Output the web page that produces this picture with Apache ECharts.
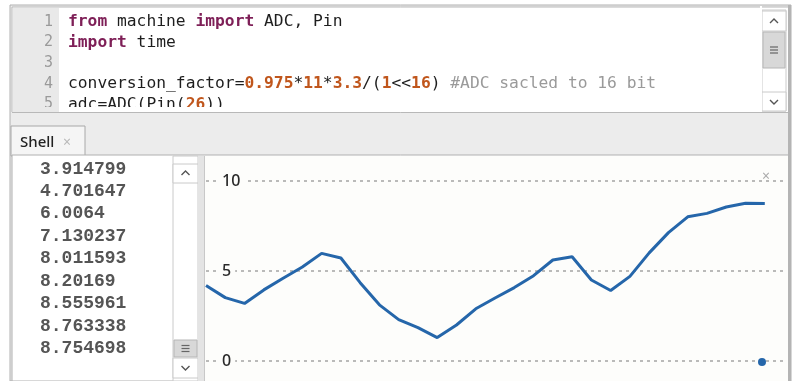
<!DOCTYPE html>
<html><head><meta charset="utf-8">
<script src="https://cdn.jsdelivr.net/npm/echarts@6/dist/echarts.min.js"></script>
<style>html,body{margin:0;padding:0;background:#fff}#c{width:794px;height:381px}</style>
</head><body><div id="c"></div>
<script>
// ---- data ----
const sampleIndex = [0,1,2,3,4,5,6,7,8,9,10,11,12,13,14,15,16,17,18,19,20,21,22,23,24,25,26,27,28,29];
const voltages = [4.20,3.52,3.20,3.95,4.60,5.22,5.98,5.72,4.35,3.12,2.30,1.85,1.30,2.00,2.90,3.50,4.08,4.74,5.61,5.79,4.50,
                  3.914799,4.701647,6.0064,7.130237,8.011593,8.20169,8.555961,8.763338,8.754698];
const yTicks = [0,5,10];
const shellLines = ['3.914799','4.701647','6.0064','7.130237','8.011593','8.20169','8.555961','8.763338','8.754698'];
const lineNumbers = ['1','2','3','4','5'];
const codeLines = [
  [['kw','from'],['tx',' machine '],['kw','import'],['tx',' ADC, Pin']],
  [['kw','import'],['tx',' time']],
  [],
  [['tx','conversion_factor='],['num','0.975'],['tx','*'],['num','11'],['tx','*'],['num','3.3'],['tx','/('],['num','1'],['tx','<<'],['num','16'],['tx',')'],['cm',' #ADC sacled to 16 bit']],
  [['tx','adc=ADC(Pin('],['num','26'],['tx','))']]
];

const MONO = '"DejaVu Sans Mono", "Liberation Mono", monospace';
const SANS = '"Noto Sans", "Open Sans", sans-serif';
const lineColor = '#2566aa';
const plotBg = '#fdfdfb';

const chart = echarts.init(document.getElementById('c'), null, {renderer:'canvas'});

const g = [];
function rect(x,y,w,h,fill,stroke,z,lw){ g.push({type:'rect', z:z||-10, shape:{x,y,width:w,height:h}, style:{fill:fill||'none', stroke:stroke||null, lineWidth:lw||1}, silent:true}); }
function line(x1,y1,x2,y2,stroke,z,lw){ g.push({type:'line', z:z||-5, shape:{x1,y1,x2,y2}, style:{stroke, lineWidth:lw||1}, silent:true}); }
function chevron(cx,cy,up,z){ const d = up?-1:1; g.push({type:'polyline', z:z||-4, shape:{points:[[cx-4,cy-2*d],[cx,cy+2*d],[cx+4,cy-2*d]]}, style:{stroke:'#555', lineWidth:1.4, fill:null}, silent:true}); }
function burger(cx,cy,z){ for (let k=-1;k<=1;k++) line(cx-4,cy+k*3,cx+4,cy+k*3,'#666',z||-4,1.2); }

// window background band
rect(10,5,781,376,'#ececec','#b0b0b0',-20,1);
// editor
rect(12,7,777,106,'#ffffff','#b8b8b8',-19,1);
rect(13,8,46,104,'#e9e9e9',null,-18);
// editor scrollbar
rect(762,10,24,101,'#ffffff','#cacaca',-17);
rect(762,11,24,20,'#ffffff','#cacaca',-16); chevron(774,21,true,-15);
rect(763,32,22,36,'#d8d8d8','#b6b6b6',-16); burger(774,50,-15);
rect(762,92,24,19,'#ffffff','#cacaca',-16); chevron(774,102,false,-15);

// line numbers
lineNumbers.forEach((n,i)=>{
  g.push({type:'text', z:-14, x:53, y:22+i*20.6, style:{text:n, font:'15px '+MONO, fill:'#9a9a9a', align:'right', verticalAlign:'middle'}, silent:true});
});
// code text
const rich = {
  kw:{fill:'#7e1f57', fontWeight:'bold', fontFamily:MONO, fontSize:16.3},
  tx:{fill:'#1e1e1e', fontFamily:MONO, fontSize:16.3},
  num:{fill:'#c0561c', fontWeight:'bold', fontFamily:MONO, fontSize:16.3},
  cm:{fill:'#9a9a9a', fontFamily:MONO, fontSize:16.3}
};
codeLines.forEach((toks,i)=>{
  if (!toks.length) return;
  const t = toks.map(([s,v])=>'{'+s+'|'+v+'}').join('');
  g.push({type:'text', z:-14, x:68, y:22+i*20.6, style:{text:t, rich, fontFamily:MONO, fontSize:16.3, verticalAlign:'middle'}, silent:true});
});
// clip the partly hidden 5th line
rect(13,107,747,5,'#ffffff',null,-12);
rect(13,107,46,5,'#e9e9e9',null,-11.5);
rect(11,112,778,13,'#ececec',null,-12);
line(12,112.5,789,112.5,'#b8b8b8',-11,1);
rect(760,6,2,105,'#ffffff',null,-13);

// shell tab
rect(11,126,74,30,'#f5f5f5','#a8a8a8',-12);
g.push({type:'text', z:-11, x:20, y:143, style:{text:'Shell', font:'500 15px '+SANS, fill:'#222', verticalAlign:'middle'}, silent:true});
g.push({type:'text', z:-11, x:63, y:143, style:{text:'×', font:'14px '+SANS, fill:'#b8b8b8', verticalAlign:'middle'}, silent:true});

// shell panel
rect(12,155,777,226,'#ffffff','#b0b0b0',-12);
shellLines.forEach((s,i)=>{
  g.push({type:'text', z:-10, x:40, y:169+i*22.45, style:{text:s, font:'bold 18px "Liberation Mono", monospace', fill:'#555555', verticalAlign:'middle'}, silent:true});
});
// shell scrollbar
rect(173,156,25,225,'#ffffff','#cacaca',-10);
rect(173,164,25,19,'#ffffff','#cacaca',-9); chevron(185.5,173,true,-8);
rect(174,340,23,17,'#d8d8d8','#b6b6b6',-9); burger(185.5,348.5,-8);
rect(173,358,25,20,'#ffffff','#cacaca',-9); chevron(185.5,368,false,-8);
// separator + plot background
rect(198,156,7,225,'#e4e4e4',null,-9);
line(204.5,156,204.5,381,'#c8c8c8',-8,1);
rect(205,156,583,225,plotBg,null,-9);
rect(788,5,3,376,'#b4b4b4',null,-7);

// plot overlays
g.push({type:'text', z:10, x:766, y:177, style:{text:'×', font:'14px '+SANS, fill:'#aaaaaa', align:'center', verticalAlign:'middle'}, silent:true});
g.push({type:'circle', z:10, shape:{cx:762, cy:362, r:4}, style:{fill:lineColor}, silent:true});

chart.setOption({
  animation:false,
  backgroundColor:'#ffffff',
  grid:{left:206, right:8, top:181, bottom:20},
  xAxis:{type:'value', min:0, max:30.1, show:false},
  yAxis:[
    {type:'value', min:yTicks[0], max:yTicks[yTicks.length-1], interval:yTicks[1]-yTicks[0],
     axisLine:{show:false}, axisTick:{show:false}, axisLabel:{show:false},
     splitLine:{show:true, lineStyle:{color:'#a4a4a4', width:1.6, type:[3,4]}}},
    {type:'value', position:'left', min:yTicks[0], max:yTicks[yTicks.length-1], interval:yTicks[1]-yTicks[0], z:5,
     axisLine:{show:false}, axisTick:{show:false}, splitLine:{show:false},
     axisLabel:{show:true, inside:true, margin:12, color:'#2a2a2a', fontSize:16, fontWeight:500, fontFamily:SANS,
       backgroundColor:plotBg, padding:[0,4,0,4]}}
  ],
  series:[{
    type:'line', yAxisIndex:0, showSymbol:false, z:3,
    data: sampleIndex.map((x,i)=>[x, voltages[i]]),
    lineStyle:{color:lineColor, width:3}, itemStyle:{color:lineColor}
  }],
  graphic:{elements:g}
});
</script></body></html>
